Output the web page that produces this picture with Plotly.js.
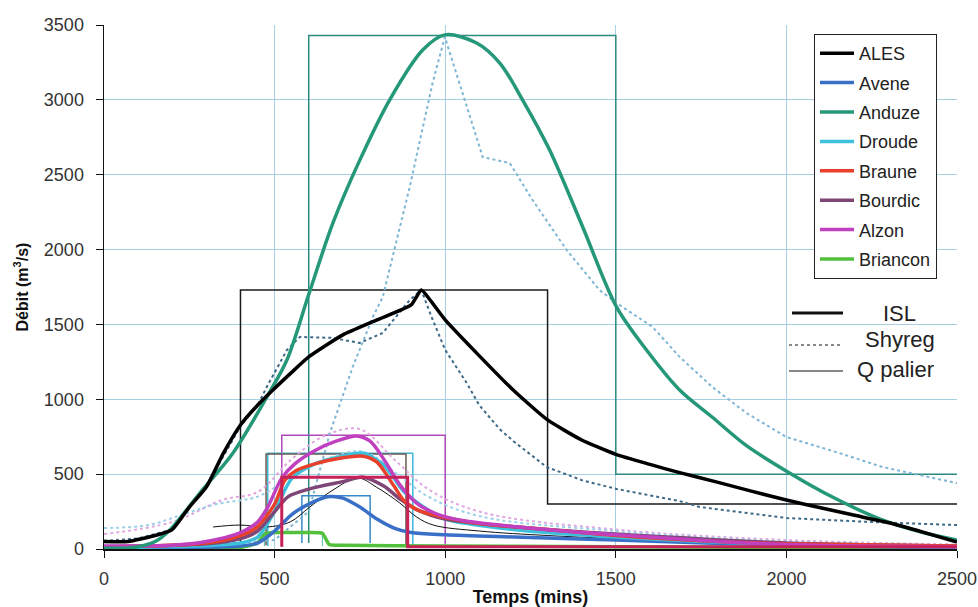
<!DOCTYPE html>
<html>
<head>
<meta charset="utf-8">
<script src="https://cdn.plot.ly/plotly-3.0.1.min.js"></script>
<style>html,body{margin:0;padding:0;background:#fff;}#chart{width:978px;height:607px;}</style>
</head>
<body>
<div id="chart"></div>
<script>
// ---------- data (time in minutes, discharge in m3/s) ----------
const alesT = [0, 70, 150, 200, 250, 300, 350, 400, 450, 495, 550, 600, 700, 800, 900, 930, 960, 1000, 1100, 1200, 1300, 1400, 1500, 1600, 1687, 1800, 1900, 2000, 2100, 2200, 2300, 2400, 2500];
const alesQ = [50, 50, 90, 130, 280, 414, 640, 828, 960, 1062, 1180, 1283, 1430, 1530, 1630, 1730, 1650, 1530, 1290, 1060, 862, 728, 632, 565, 510, 445, 385, 327, 275, 225, 175, 113, 47];

const anduzeT = [0, 86, 150, 193, 281, 378, 477, 536, 600, 671, 750, 837, 934, 999, 1092, 1160, 1227, 1306, 1403, 1502, 1590, 1687, 1783, 1883, 2009, 2135, 2281, 2400, 2500];
const anduzeQ = [5, 10, 50, 127, 374, 641, 1015, 1262, 1700, 2178, 2599, 2999, 3333, 3434, 3380, 3246, 2999, 2665, 2151, 1617, 1329, 1062, 880, 690, 508, 347, 194, 110, 60];

const aveneT = [0, 400, 450, 500, 550, 600, 660, 700, 750, 800, 850, 900, 1000, 1200, 1500, 2000, 2500];
const aveneQ = [10, 20, 40, 120, 230, 300, 350, 340, 280, 200, 140, 110, 95, 80, 60, 25, 10];

const droudeT = [0, 400, 450, 500, 550, 620, 700, 760, 820, 880, 950, 1000, 1200, 1500, 2000, 2500];
const droudeQ = [10, 40, 80, 250, 470, 570, 620, 640, 560, 380, 260, 200, 130, 80, 30, 15];

const brauneT = [0, 300, 400, 450, 500, 530, 560, 620, 700, 760, 800, 850, 880, 920, 1000, 1100, 1300, 1500, 1800, 2000, 2500];
const brauneQ = [15, 40, 90, 150, 300, 460, 520, 570, 610, 620, 580, 420, 320, 260, 210, 170, 130, 90, 50, 35, 20];

const bourdicT = [0, 300, 400, 450, 500, 540, 600, 700, 760, 820, 870, 920, 1000, 1100, 1300, 1500, 2000, 2500];
const bourdicQ = [15, 35, 70, 120, 250, 350, 400, 450, 480, 420, 330, 260, 200, 170, 130, 100, 40, 20];

const alzonT = [0, 200, 300, 400, 450, 480, 520, 560, 620, 680, 740, 780, 820, 870, 920, 980, 1050, 1200, 1400, 1600, 1800, 2000, 2200, 2500];
const alzonQ = [20, 25, 50, 110, 180, 280, 470, 570, 660, 720, 755, 720, 600, 420, 300, 230, 190, 150, 110, 80, 50, 30, 20, 15];

const brianconT = [0, 400, 450, 470, 500, 600, 640, 660, 700, 1000, 2000, 2500];
const brianconQ = [5, 10, 40, 100, 110, 110, 105, 30, 25, 20, 10, 5];

// Shyreg (dotted)
const alesShyT = [0, 100, 200, 300, 400, 450, 477, 536, 574, 670, 749, 817, 896, 930, 960, 1000, 1063, 1100, 1160, 1200, 1297, 1400, 1502, 1600, 1687, 1745, 2000, 2250, 2500];
const alesShyQ = [55, 70, 130, 420, 820, 960, 1082, 1329, 1416, 1410, 1376, 1443, 1663, 1730, 1550, 1330, 1109, 960, 800, 720, 548, 460, 401, 360, 320, 281, 207, 180, 160];

const anduzeShyT = [0, 300, 500, 600, 662, 729, 788, 817, 896, 963, 999, 1042, 1110, 1189, 1256, 1356, 1452, 1502, 1608, 1687, 1783, 1883, 2000, 2155, 2281, 2500];
const anduzeShyQ = [0, 20, 60, 250, 775, 1216, 1550, 1683, 2418, 3113, 3420, 3113, 2618, 2578, 2331, 1997, 1730, 1643, 1483, 1283, 1082, 908, 748, 641, 548, 440];

const alzonShyT = [0, 200, 350, 450, 550, 650, 750, 850, 950, 1100, 1500, 2000, 2500];
const alzonShyQ = [100, 180, 330, 380, 600, 760, 800, 600, 400, 250, 130, 60, 30];

const droudeShyT = [0, 130, 230, 330, 450, 550, 650, 760, 860, 950, 1100, 1500, 2000, 2500];
const droudeShyQ = [140, 160, 230, 300, 350, 480, 600, 650, 500, 350, 220, 120, 50, 25];

// thin reference hydrograph
const thinT = [320, 398, 477, 545, 603, 671, 744, 798, 867, 916, 965, 1100, 1300, 1500, 2000, 2500];
const thinQ = [147, 160, 147, 180, 280, 394, 474, 414, 307, 214, 160, 120, 90, 70, 30, 15];

// Q palier (step hydrographs)
const alesPalT = [400, 400, 1300, 1300, 2500];
const alesPalQ = [47, 1730, 1730, 300, 300];
const anduzePalT = [600, 600, 1500, 1500, 2500];
const anduzePalQ = [40, 3430, 3430, 500, 500];
const alzonPalT = [521, 521, 1000, 1000, 2500];
const alzonPalQ = [15, 760, 760, 15, 15];
const droudePalT = [480, 480, 905, 905];
const droudePalQ = [20, 640, 640, 20];
const brauPalT = [475, 475, 885, 885];
const brauPalQ = [25, 635, 635, 25];
const bourdicPalT = [521, 521, 890, 890, 2500];
const bourdicPalQ = [15, 480, 480, 15, 15];
const avenePalT = [580, 580, 780, 780];
const avenePalQ = [40, 355, 355, 40];
const brianPalT = [470, 470, 640, 640];
const brianPalQ = [20, 110, 110, 20];

const xTicks = [0, 500, 1000, 1500, 2000, 2500];
const yTicks = [0, 500, 1000, 1500, 2000, 2500, 3000, 3500];

// ---------- traces ----------
function ln(x, y, color, width, dash, shape) {
  return {x: x, y: y, type: 'scatter', mode: 'lines',
    line: {color: color, width: width, dash: dash || 'solid', shape: shape || 'linear'},
    showlegend: false, hoverinfo: 'skip'};
}
function main(x, y, name, color, rank, smooth) {
  return {x: x, y: y, type: 'scatter', mode: 'lines', name: name,
    line: {color: color, width: 3.5, shape: 'spline', smoothing: smooth || 0.8},
    showlegend: true, legendgroup: name, legendrank: rank, hoverinfo: 'skip'};
}

const traces = [
  // Q palier
  ln(alesPalT, alesPalQ, '#1a1a1a', 1.5),
  ln(anduzePalT, anduzePalQ, '#2a8a80', 1.5),
  ln(alzonPalT, alzonPalQ, '#b048b8', 1.5),
  ln(droudePalT, droudePalQ, '#40b8d8', 1.5),
  ln(brauPalT, brauPalQ, '#6a5a50', 1.5),
  ln(avenePalT, avenePalQ, '#3a88c8', 1.5),
  ln(brianPalT, brianPalQ, '#50b8a0', 1),
  // Shyreg dotted
  ln(alzonShyT, alzonShyQ, '#e0a8e0', 2, 'dot', 'spline'),
  ln(droudeShyT, droudeShyQ, '#9cd0e8', 2, 'dot', 'spline'),
  ln(anduzeShyT, anduzeShyQ, '#7eb6d4', 2, 'dot'),
  ln(alesShyT, alesShyQ, '#3e6a88', 2, 'dot'),
  ln(thinT, thinQ, '#111', 1, 'solid', 'spline'),
  // stations
  main(brianconT, brianconQ, 'Briancon', '#52c03c', 8, 0.4),
  main(aveneT, aveneQ, 'Avene', '#3a6fc8', 2),
  main(droudeT, droudeQ, 'Droude', '#3cc0dc', 4),
  main(bourdicT, bourdicQ, 'Bourdic', '#7e4676', 6),
  main(brauneT, brauneQ, 'Braune', '#e8402a', 5),
  main(alzonT, alzonQ, 'Alzon', '#c040c0', 7),
  ln(bourdicPalT, bourdicPalQ, '#c82058', 3),
  main(anduzeT, anduzeQ, 'Anduze', '#25987a', 3, 0.9),
  main(alesT, alesQ, 'ALES', '#000000', 1, 0.5)
];

// ---------- layout ----------
const font = 'Liberation Sans, Arial, sans-serif';
const X0 = 104, X1 = 957, Y0 = 549, Y1 = 25;
function px(x) { return (x - X0) / (X1 - X0); }
function py(y) { return (Y0 - y) / (Y0 - Y1); }

const keyShapes = [
  {type: 'line', xref: 'paper', yref: 'paper', x0: px(792), x1: px(843), y0: py(313), y1: py(313), line: {color: '#111', width: 3}},
  {type: 'line', xref: 'paper', yref: 'paper', x0: px(789), x1: px(843), y0: py(345), y1: py(345), line: {color: '#111', width: 1, dash: 'dot'}},
  {type: 'line', xref: 'paper', yref: 'paper', x0: px(789), x1: px(843), y0: py(371), y1: py(371), line: {color: '#111', width: 1.2}}
];
const keyText = [
  {text: 'ISL', x: px(899), y: py(313)},
  {text: 'Shyreg', x: px(900), y: py(340)},
  {text: 'Q palier', x: px(895), y: py(369)}
].map(a => Object.assign({xref: 'paper', yref: 'paper', showarrow: false, xanchor: 'center', yanchor: 'middle',
  font: {family: font, size: 22, color: '#222'}}, a));

const layout = {
  width: 978, height: 607,
  margin: {l: X0, r: 978 - X1, t: Y1, b: 607 - Y0, pad: 0},
  paper_bgcolor: '#fff', plot_bgcolor: '#fff',
  font: {family: font, size: 18, color: '#222'},
  xaxis: {
    range: [0, 2500], tickvals: xTicks, ticktext: xTicks.map(String),
    showgrid: true, gridcolor: '#a6cfe2', gridwidth: 1, zeroline: false,
    showline: true, linecolor: '#111', linewidth: 1.5,
    ticks: 'outside', ticklen: 7, tickcolor: '#111', ticklabelstandoff: 6,
    tickfont: {family: font, size: 18, color: '#333'},
    title: {text: '<b>Temps (mins)</b>', font: {family: font, size: 18, color: '#111'}, standoff: 2},
    automargin: false
  },
  yaxis: {
    range: [0, 3500], tickvals: yTicks, ticktext: yTicks.map(String),
    showgrid: true, gridcolor: '#a6cfe2', gridwidth: 1, zeroline: false,
    showline: true, linecolor: '#111', linewidth: 1.5,
    ticks: 'outside', ticklen: 7, tickcolor: '#111', ticklabelstandoff: 8,
    tickfont: {family: font, size: 18, color: '#333'},
    title: {text: '<b>Débit (m<sup>3</sup>/s)</b>', font: {family: font, size: 16, color: '#111'}, standoff: 11},
    automargin: false
  },
  legend: {
    x: px(814), y: py(34), xanchor: 'left', yanchor: 'top',
    bgcolor: '#fff', bordercolor: '#222', borderwidth: 1,
    font: {family: font, size: 18, color: '#222'},
    tracegroupgap: 3, itemwidth: 34
  },
  shapes: keyShapes,
  annotations: keyText
};

Plotly.newPlot('chart', traces, layout, {displayModeBar: false, staticPlot: true});
</script>
</body>
</html>
